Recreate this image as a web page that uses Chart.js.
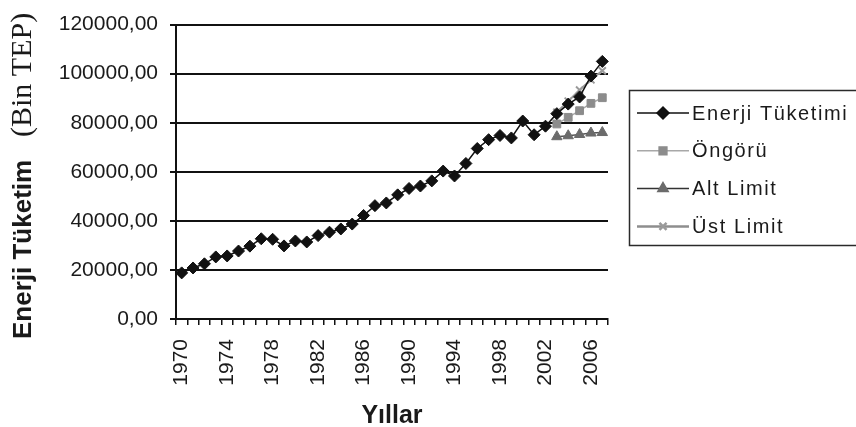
<!DOCTYPE html>
<html>
<head>
<meta charset="utf-8">
<script src="https://cdn.jsdelivr.net/npm/chart.js@4/dist/chart.umd.min.js"></script>
<style>
  html, body { margin: 0; padding: 0; background: #fff; overflow: hidden; }
  canvas { display: block; }
</style>
</head>
<body>
<canvas id="c" width="856" height="427"></canvas>
<script>
// Years on the category axis
const years = ['1970','1971','1972','1973','1974','1975','1976','1977','1978','1979',
               '1980','1981','1982','1983','1984','1985','1986','1987','1988','1989',
               '1990','1991','1992','1993','1994','1995','1996','1997','1998','1999',
               '2000','2001','2002','2003','2004','2005','2006','2007'];

// Energy consumption (thousand TEP), one value per year
const consumption = [18800, 20800, 22500, 25300, 25700, 27700, 29700, 32700, 32500, 29800,
                     31800, 31400, 34000, 35400, 36700, 38700, 42200, 46200, 47300, 50600,
                     53200, 54200, 56300, 60300, 58300, 63400, 69500, 73100, 74800, 73800,
                     80700, 75100, 78600, 83700, 87600, 90500, 99000, 105000];

// Forecast period and its three series
const forecastYears = ['2003','2004','2005','2006','2007'];
const forecast   = [79500, 82200, 84900, 87900, 90200];
const lowerLimit = [74300, 74700, 75200, 75800, 76000];
const upperLimit = [84300, 88800, 93300, 97500, 101200];

// y-axis ticks
const yTicks = { min: 0, max: 120000, step: 20000 };

const seriesNames = ['Enerji Tüketimi', 'Öngörü', 'Alt Limit', 'Üst Limit'];

const pairs = (xs, ys) => xs.map((x, i) => ({ x: x, y: ys[i] }));

const tickFont = { family: 'Liberation Sans, Arial, sans-serif', size: 21 };

// Axis titles: the y title mixes a bold sans part and a serif part
const axisTitles = {
  id: 'axisTitles',
  afterDraw(chart) {
    const ctx = chart.ctx;
    ctx.save();
    ctx.fillStyle = '#1a1a1a';
    ctx.translate(31, 339);
    ctx.rotate(-Math.PI / 2);
    ctx.textAlign = 'left';
    ctx.textBaseline = 'alphabetic';
    ctx.font = 'bold 26px "Liberation Sans", Arial, sans-serif';
    ctx.fillText('Enerji Tüketim', 0, 0);
    ctx.font = '30px "Liberation Serif", "Times New Roman", serif';
    ctx.fillText('(Bin TEP)', 202, 0);
    ctx.restore();

    ctx.save();
    ctx.fillStyle = '#1a1a1a';
    ctx.font = 'bold 25px "Liberation Sans", Arial, sans-serif';
    ctx.textAlign = 'center';
    ctx.textBaseline = 'alphabetic';
    const xs = chart.scales.x;
    ctx.fillText('Yıllar', (xs.left + xs.right) / 2, 423);
    ctx.restore();
  }
};

// Boxed legend on the right
const boxLegend = {
  id: 'boxLegend',
  afterDraw(chart) {
    const ctx = chart.ctx;
    ctx.save();
    ctx.strokeStyle = '#2a2a2a';
    ctx.lineWidth = 1.5;
    ctx.strokeRect(629.5, 90.5, 240, 155);
    const lineColors = ['#111', '#a8a8a8', '#333', '#8e8e8e'];
    const lineWidths = [1.5, 1.5, 1.5, 2.5];
    chart.data.datasets.forEach((ds, i) => {
      const y = 113 + i * 37.8;
      ctx.strokeStyle = lineColors[i];
      ctx.lineWidth = lineWidths[i];
      ctx.beginPath();
      ctx.moveTo(637, y);
      ctx.lineTo(689, y);
      ctx.stroke();
      ctx.fillStyle = ds.pointBackgroundColor;
      ctx.strokeStyle = ds.pointBorderColor;
      Chart.helpers.drawPoint(ctx, {
        pointStyle: ds.pointStyle,
        radius: ds.pointRadius,
        rotation: 0,
        borderWidth: ds.pointBorderWidth
      }, 663, y);
      ctx.fillStyle = '#1a1a1a';
      ctx.font = '20px "Liberation Sans", Arial, sans-serif';
      ctx.letterSpacing = '1.6px';
      ctx.textAlign = 'left';
      ctx.textBaseline = 'middle';
      ctx.fillText(ds.label, 692, y + 1);
      ctx.letterSpacing = '0px';
    });
    ctx.restore();
  }
};

new Chart(document.getElementById('c'), {
  type: 'line',
  data: {
    labels: years,
    datasets: [
      {
        label: seriesNames[0],
        data: consumption,
        borderColor: '#111',
        borderWidth: 1.5,
        pointStyle: 'rectRot',
        pointRadius: 6,
        pointBackgroundColor: '#111',
        pointBorderColor: '#111',
        pointBorderWidth: 1,
        tension: 0
      },
      {
        label: seriesNames[1],
        data: pairs(forecastYears, forecast),
        borderColor: '#a8a8a8',
        borderWidth: 1.5,
        pointStyle: 'rect',
        pointRadius: 5.5,
        pointBackgroundColor: '#8c8c8c',
        pointBorderColor: '#8c8c8c',
        pointBorderWidth: 1,
        tension: 0
      },
      {
        label: seriesNames[2],
        data: pairs(forecastYears, lowerLimit),
        borderColor: '#555',
        borderWidth: 1.5,
        pointStyle: 'triangle',
        pointRadius: 6,
        pointBackgroundColor: '#6b6b6b',
        pointBorderColor: '#6b6b6b',
        pointBorderWidth: 1,
        tension: 0
      },
      {
        label: seriesNames[3],
        data: pairs(forecastYears, upperLimit),
        borderColor: '#9a9a9a',
        borderWidth: 2,
        pointStyle: 'crossRot',
        pointRadius: 5,
        pointBackgroundColor: '#9a9a9a',
        pointBorderColor: '#9a9a9a',
        pointBorderWidth: 2,
        tension: 0
      }
    ]
  },
  options: {
    responsive: false,
    animation: false,
    devicePixelRatio: 1,
    layout: { padding: { left: 0, right: 248, top: 17, bottom: 0 } },
    plugins: {
      legend: { display: false },
      tooltip: { enabled: false },
      title: { display: false }
    },
    scales: {
      x: {
        type: 'category',
        offset: true,
        grid: {
          offset: true,
          drawOnChartArea: false,
          drawTicks: true,
          tickLength: 6,
          color: '#111',
          lineWidth: 1.5
        },
        border: { color: '#111', width: 2 },
        ticks: {
          autoSkip: false,
          minRotation: 90,
          maxRotation: 90,
          padding: 14,
          font: tickFont,
          color: '#1a1a1a',
          callback: (v, i) => (i % 4 === 0 ? years[i] : '')
        },
        afterFit: (s) => { s.height = 108; }
      },
      y: {
        min: yTicks.min,
        max: yTicks.max,
        grid: { color: '#111', lineWidth: 2, tickLength: 6 },
        border: { color: '#111', width: 2 },
        ticks: {
          stepSize: yTicks.step,
          padding: 12,
          font: tickFont,
          color: '#1a1a1a',
          callback: (v) => v.toFixed(2).replace('.', ',')
        },
        afterFit: (s) => { s.width = 176; }
      }
    }
  },
  plugins: [axisTitles, boxLegend]
});
</script>
</body>
</html>
